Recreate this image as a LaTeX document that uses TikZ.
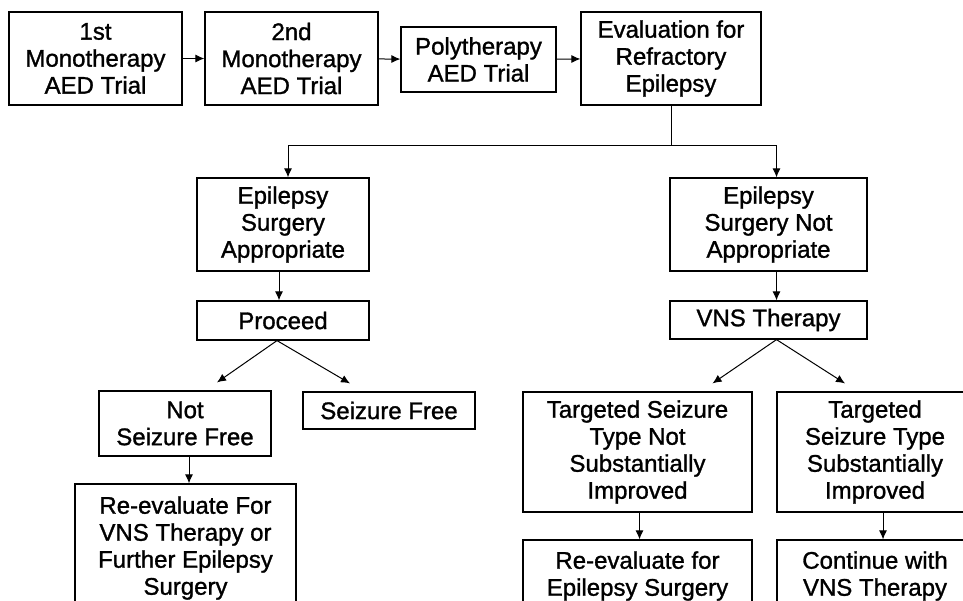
\documentclass[tikz,border=0pt]{standalone}
\usepackage{fontspec}
\setmainfont{Liberation Sans}
\newfontfamily\boxfont[BoldFont=Liberation Sans, BoldFeatures={FakeBold=1.2}]{Liberation Sans}
\usetikzlibrary{arrows.meta}
\begin{document}
\begin{tikzpicture}[x=1pt, y=-1pt, >={Latex[length=9pt,width=8pt]}, line width=1pt,
  box/.style={draw, line width=1.2pt, align=center, inner sep=0pt,
    font=\boxfont\bfseries\fontsize{24}{27}\selectfont}]
  \clip (0,0) rectangle (963,600);
  % Nodes
  \node [box, minimum width=173pt, minimum height=93pt] (mono1) at (95.5,58.5) {1st\\Monotherapy\\AED Trial};
  \node [box, minimum width=173pt, minimum height=93pt] (mono2) at (291.5,58.5) {2nd\\Monotherapy\\AED Trial};
  \node [box, minimum width=155pt, minimum height=65pt] (poly) at (478.5,59.5) {Polytherapy\\AED Trial};
  \node [box, minimum width=180pt, minimum height=93pt] (evalref) at (671,58.5) {Evaluation for\\Refractory\\Epilepsy};
  \node [box, minimum width=172pt, minimum height=93pt] (surgok) at (283,224.5) {Epilepsy\\Surgery\\Appropriate};
  \node [box, minimum width=197pt, minimum height=93pt] (surgno) at (768.5,224.5) {Epilepsy\\Surgery Not\\Appropriate};
  \node [box, minimum width=172pt, minimum height=39pt] (proceed) at (283,320.5) {Proceed};
  \node [box, minimum width=197pt, minimum height=38pt] (vns) at (768.5,320) {VNS Therapy};
  \node [box, minimum width=172pt, minimum height=65pt] (notfree) at (185,423.5) {Not\\Seizure Free};
  \node [box, minimum width=172pt, minimum height=37pt] (free) at (389,410.5) {Seizure Free};
  \node [box, minimum width=221pt, minimum height=128pt] (reevalvns) at (185.5,548) {Re-evaluate For\\VNS Therapy or\\Further Epilepsy\\Surgery};
  \node [box, minimum width=229pt, minimum height=120pt] (notimp) at (637.5,452) {Targeted Seizure\\Type Not\\Substantially\\Improved};
  \node [box, minimum width=196pt, minimum height=120pt] (imp) at (875,452) {Targeted\\Seizure Type\\Substantially\\Improved};
  \node [box, minimum width=229pt, minimum height=72pt] (reevalsurg) at (637.5,576) {Re-evaluate for\\Epilepsy Surgery};
  \node [box, minimum width=196pt, minimum height=72pt] (contvns) at (875,576) {Continue with\\VNS Therapy};

  % Edges
  \draw[->] (mono1) -- (mono2);
  \draw[->] (mono2) -- (poly);
  \draw[->] (poly) -- (evalref);
  \draw[->] (evalref.south) -- ++(0,40) -| ([xshift=5pt]surgok.north);
  \draw[->] (evalref.south) -- ++(0,40) -| ([xshift=8pt]surgno.north);
  \draw[->] ([xshift=-4pt]surgok.south) -- ([xshift=-4pt]proceed.north);
  \draw[->] ([xshift=8pt]surgno.south) -- ([xshift=8pt]vns.north);
  \draw[->] ([xshift=-6pt]proceed.south) -- ([shift={(32pt,8pt)}]notfree.north);
  \draw[->] ([xshift=-6pt]proceed.south) -- ([shift={(-39pt,8pt)}]free.north);
  \draw[->] ([xshift=8pt]vns.south) -- ([shift={(75pt,8pt)}]notimp.north);
  \draw[->] ([xshift=8pt]vns.south) -- ([shift={(-30pt,8pt)}]imp.north);
  \draw[->] ([xshift=4pt]notfree.south) -- ([xshift=4pt]notfree.south |- reevalvns.north);
  \draw[->] ([xshift=2pt]notimp.south) -- ([xshift=2pt]notimp.south |- reevalsurg.north);
  \draw[->] ([xshift=8pt]imp.south) -- ([xshift=8pt]contvns.north);
\end{tikzpicture}
\end{document}
